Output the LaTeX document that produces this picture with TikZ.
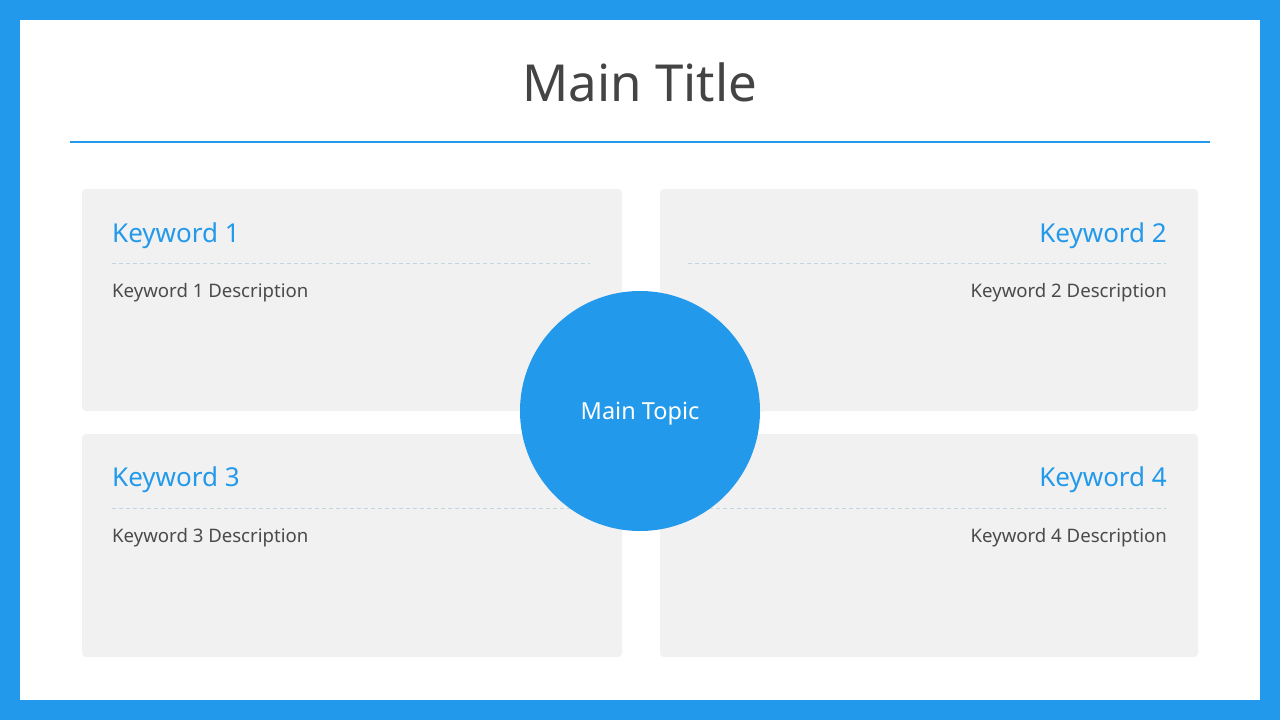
\documentclass[tikz,border=0pt]{standalone}
\usepackage{fontspec}
\setmainfont{Noto Sans}
\definecolor{frameblue}{HTML}{2299EA}
\definecolor{titlegray}{HTML}{444444}
\definecolor{boxgray}{HTML}{F1F1F1}
\definecolor{descgray}{HTML}{4A4A4A}
\definecolor{dashgray}{HTML}{C6D4DE}
\tikzset{
  kbox/.style={fill=boxgray, draw=none, rounded corners=4pt},
  kword/.style={text=frameblue, font=\fontsize{26}{30}\selectfont, inner sep=0pt},
  kdesc/.style={text=descgray, font=\fontsize{18.6}{22}\selectfont, inner sep=0pt},
  kdash/.style={draw=dashgray, line width=0.8pt, dash pattern=on 4pt off 3pt},
}
\begin{document}
\begin{tikzpicture}[x=1pt,y=-1pt]
\useasboundingbox (0,0) rectangle (1280,720);
\fill[frameblue] (0,0) rectangle (1280,720);
\fill[white] (20,20) rectangle (1260,700);
\node[text=titlegray, font=\fontsize{51}{58}\selectfont, inner sep=0pt, anchor=base] (title) at (640,101) {Main Title};
\coordinate (ruleL) at (70,142);
\coordinate (ruleR) at (1210,142);
\draw[frameblue, line width=2pt] (ruleL) -- (ruleR);
% boxes
\path[kbox] (82,189) rectangle (622,411);
\path[kbox] (660,189) rectangle (1198,411);
\path[kbox] (82,434) rectangle (622,657);
\path[kbox] (660,434) rectangle (1198,657);
% box 1
\node[kword, anchor=base west] (k1) at (112,242) {Keyword 1};
\coordinate (d1a) at (112,263); \coordinate (d1b) at (590,263);
\draw[kdash] (d1a) -- (d1b);
\node[kdesc, anchor=base west] (t1) at (112,297) {Keyword 1 Description};
% box 2
\node[kword, anchor=base east] (k2) at (1167,242) {Keyword 2};
\coordinate (d2a) at (688,263); \coordinate (d2b) at (1166,263);
\draw[kdash] (d2a) -- (d2b);
\node[kdesc, anchor=base east] (t2) at (1167,297) {Keyword 2 Description};
% box 3
\node[kword, anchor=base west] (k3) at (112,486) {Keyword 3};
\coordinate (d3a) at (112,508); \coordinate (d3b) at (590,508);
\draw[kdash] (d3a) -- (d3b);
\node[kdesc, anchor=base west] (t3) at (112,542) {Keyword 3 Description};
% box 4
\node[kword, anchor=base east] (k4) at (1167,486) {Keyword 4};
\coordinate (d4a) at (688,508); \coordinate (d4b) at (1166,508);
\draw[kdash] (d4a) -- (d4b);
\node[kdesc, anchor=base east] (t4) at (1167,542) {Keyword 4 Description};
% circle
\node[circle, fill=frameblue, minimum size=240pt, inner sep=0pt, text=white, font=\fontsize{23.5}{27}\selectfont] (topic) at (640,411) {\raisebox{-8pt}[0pt][0pt]{Main Topic}};
\end{tikzpicture}
\end{document}
